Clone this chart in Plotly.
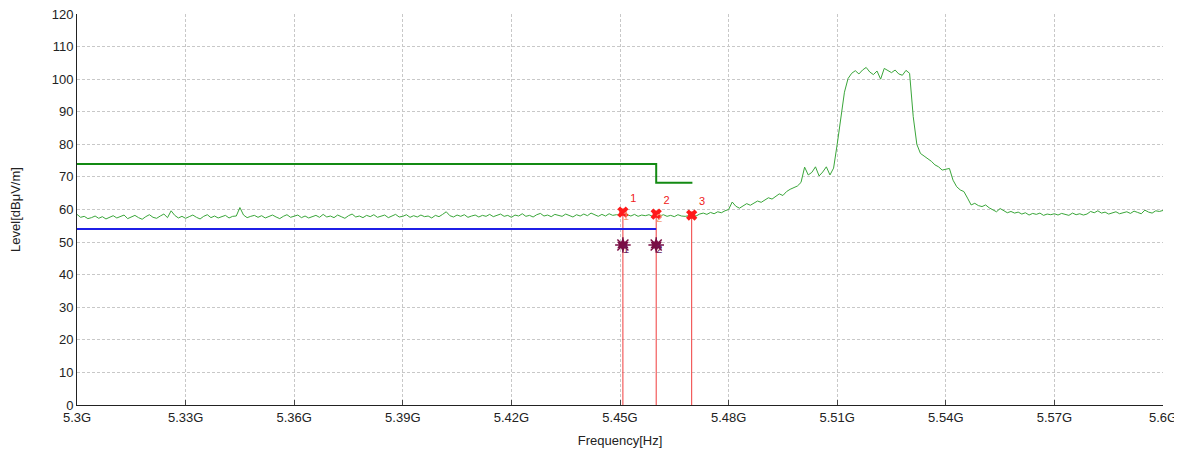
import plotly.graph_objects as go

# ---------------- data ----------------
SWEEP_START_GHZ = 5.300
SWEEP_STEP_GHZ = 0.001

# measured trace level [dBuV/m], one value per sweep point 5.300 ... 5.600 GHz
trace_level = [
    58.5, 57.6, 57.9, 57.2, 57.5, 58.0, 57.3, 57.8, 57.1, 57.6,
    58.1, 57.4, 57.9, 58.3, 57.2, 57.7, 58.2, 57.5, 57.0, 57.8,
    58.4, 57.6, 57.3, 58.0, 58.6, 57.5, 59.6, 58.2, 57.4, 57.9,
    57.3, 57.8, 58.3, 57.6, 57.1, 57.9, 58.4, 57.5, 58.0, 57.4,
    57.7, 58.2, 57.4, 57.9, 58.0, 60.6, 58.3, 57.5, 57.9, 58.2,
    57.6, 58.1, 57.4, 57.8, 58.3, 57.7, 57.2, 57.9, 58.4, 57.6,
    57.9, 58.3, 57.5, 58.0, 57.4, 57.8, 58.2, 57.6, 58.5, 57.7,
    58.0, 57.5, 58.3, 57.8, 57.3, 58.1, 58.6, 57.7, 58.0, 57.5,
    58.2, 57.8, 58.4, 57.6, 57.9, 58.3, 57.5, 58.0, 58.5, 57.7,
    57.9, 58.4, 57.6, 58.1, 57.7, 58.3, 57.8, 58.0, 57.4, 58.2,
    57.8, 58.5, 59.3, 58.1, 57.7, 58.3, 57.9, 58.4, 57.6, 58.0,
    58.3, 57.7, 58.2, 57.9, 58.5, 57.8, 58.1, 58.6, 57.9, 58.2,
    57.6, 58.3, 58.0, 58.7, 57.9, 58.2, 57.7, 58.4, 58.8, 58.0,
    58.3, 57.8, 58.5, 58.1, 57.9, 58.6, 58.2, 57.7, 58.4, 58.0,
    58.6, 58.1, 58.9, 58.3, 57.9, 58.5, 58.0, 58.7, 58.2, 58.4,
    58.3, 59.2, 58.4, 58.0, 58.5, 57.9, 58.3, 58.1, 58.4, 57.9,
    58.6, 58.0, 58.4, 57.9, 58.2, 57.8, 58.4, 58.0, 57.9, 58.1,
    58.3, 58.0, 58.6, 58.9, 58.5, 59.1, 58.7, 59.3, 59.0, 59.6,
    60.0, 62.3, 61.0, 60.4, 61.2, 61.8, 61.3, 62.0, 62.6, 62.2,
    63.0, 63.6, 63.2, 64.1, 64.8, 64.3, 65.5, 66.2, 66.8, 67.2,
    68.3, 73.0, 70.6, 71.4, 73.1, 70.3, 71.5, 73.1, 70.6, 72.7,
    80.0, 88.5, 96.0, 100.2, 101.8, 102.6, 101.6, 102.8, 103.6, 102.2,
    101.4, 102.5, 100.0, 103.3, 102.7, 102.0, 102.8, 101.6, 101.2, 102.7,
    101.8, 88.5, 80.0, 77.2, 76.4, 75.7, 74.8, 73.7, 73.1, 72.1,
    72.4, 72.6, 69.0, 67.0, 66.0, 65.5, 63.5, 61.4, 61.9, 61.2,
    60.9, 61.4, 60.5, 59.9, 59.3, 60.3, 59.6, 59.0, 59.4, 58.9,
    59.2, 58.6, 59.0, 58.3, 58.8, 58.5, 58.9, 58.2, 58.6, 58.4,
    58.7, 58.3, 58.8, 58.5, 58.2, 58.9, 58.4, 58.7, 58.3, 58.6,
    59.4, 59.0, 59.6, 58.9, 59.2, 58.6, 58.9, 59.3, 58.7, 59.0,
    59.3, 58.8, 59.5, 59.1, 58.7, 59.8, 59.2, 58.9, 59.6, 59.4,
    59.7,
]
trace_freq = [round(SWEEP_START_GHZ + i * SWEEP_STEP_GHZ, 4) for i in range(len(trace_level))]

# peak limit (green) and average limit (blue)
peak_limit_freq = [5.30, 5.46, 5.46, 5.47]
peak_limit_level = [74.0, 74.0, 68.2, 68.2]
avg_limit_freq = [5.30, 5.46]
avg_limit_level = [54.0, 54.0]

# markers
peak_marker_freq = [5.4508, 5.4600, 5.4698]
peak_marker_level = [59.2, 58.6, 58.3]
peak_marker_label = ["1", "2", "3"]
avg_marker_freq = [5.4508, 5.4600]
avg_marker_level = [49.1, 49.1]
avg_marker_label = ["1", "2"]

x_tick_vals = [5.30, 5.33, 5.36, 5.39, 5.42, 5.45, 5.48, 5.51, 5.54, 5.57, 5.60]
x_tick_text = ["5.3G", "5.33G", "5.36G", "5.39G", "5.42G", "5.45G", "5.48G",
               "5.51G", "5.54G", "5.57G", "5.6G"]
y_tick_vals = [0, 10, 20, 30, 40, 50, 60, 70, 80, 90, 100, 110, 120]

# ---------------- figure ----------------
FONT = "Liberation Sans, Arial, sans-serif"
PURPLE = "#7a0f45"
fig = go.Figure()

# vertical marker lines
vx, vy = [], []
for f, lv in zip(peak_marker_freq, peak_marker_level):
    vx += [f, f, None]
    vy += [0, lv, None]
fig.add_trace(go.Scatter(x=vx, y=vy, mode="lines", line=dict(color="#f03c3c", width=1),
                         hoverinfo="skip", showlegend=False))

fig.add_trace(go.Scatter(x=trace_freq, y=trace_level, mode="lines",
                         line=dict(color="#3aa63a", width=1), showlegend=False))
fig.add_trace(go.Scatter(x=peak_limit_freq, y=peak_limit_level, mode="lines",
                         line=dict(color="#138a13", width=2), showlegend=False))
fig.add_trace(go.Scatter(x=avg_limit_freq, y=avg_limit_level, mode="lines",
                         line=dict(color="#1f1fe6", width=2), showlegend=False))

# average markers (stars)
fig.add_trace(go.Scatter(x=avg_marker_freq, y=avg_marker_level, mode="markers",
                         marker=dict(symbol="hexagram", size=10, color=PURPLE,
                                     line=dict(width=0)), showlegend=False))
fig.add_trace(go.Scatter(x=avg_marker_freq, y=avg_marker_level, mode="markers",
                         marker=dict(symbol="asterisk-open", size=13, color=PURPLE,
                                     line=dict(color=PURPLE, width=1.5)),
                         showlegend=False))
fig.add_trace(go.Scatter(x=avg_marker_freq, y=avg_marker_level, mode="text",
                         text=avg_marker_label, textposition="bottom right",
                         textfont=dict(family=FONT, size=11, color="#6a1a5a"),
                         showlegend=False, hoverinfo="skip"))

# peak markers
fig.add_trace(go.Scatter(x=peak_marker_freq, y=peak_marker_level, mode="markers",
                         marker=dict(symbol="square", size=7, color="#ff1a1a",
                                     line=dict(width=0)), showlegend=False))
fig.add_trace(go.Scatter(x=peak_marker_freq, y=peak_marker_level, mode="markers+text",
                         text=peak_marker_label, textposition="top right",
                         textfont=dict(family=FONT, size=11, color="#f02020"),
                         marker=dict(symbol="x", size=10, color="#ff1a1a",
                                     line=dict(width=0)), showlegend=False))
fig.add_trace(go.Scatter(x=peak_marker_freq[:2], y=peak_marker_level[:2], mode="text",
                         text=peak_marker_label[:2], textposition="bottom right",
                         textfont=dict(family=FONT, size=11, color="#f4a070"),
                         showlegend=False, hoverinfo="skip"))

# the page body adds an 8px offset; figure is sized so the plot lands like the reference
fig.update_layout(
    width=1182, height=459,
    margin=dict(l=69, r=27, t=6, b=62),
    paper_bgcolor="white", plot_bgcolor="white",
    font=dict(family=FONT, size=13, color="#222"),
    showlegend=False,
)
fig.update_xaxes(
    range=[5.3, 5.6], tickmode="array", tickvals=x_tick_vals, ticktext=x_tick_text,
    showgrid=True, gridcolor="#c8c8c8", griddash="3px,2px", gridwidth=1,
    showline=True, linecolor="#222", linewidth=1, zeroline=False,
    ticks="inside", ticklen=5, tickcolor="#444", automargin=False,
    ticklabeloverflow="allow",
    title=dict(text="Frequency[Hz]", standoff=12, font=dict(size=13)),
)
fig.update_yaxes(
    range=[0, 120], tickmode="array", tickvals=y_tick_vals,
    showgrid=True, gridcolor="#c8c8c8", griddash="3px,2px", gridwidth=1,
    showline=True, linecolor="#222", linewidth=1, zeroline=False, automargin=False,
    ticklabeloverflow="allow",
    ticks="", title=dict(text="Level[dBμV/m]", standoff=35, font=dict(size=13)),
)

fig.write_html("out.html")
